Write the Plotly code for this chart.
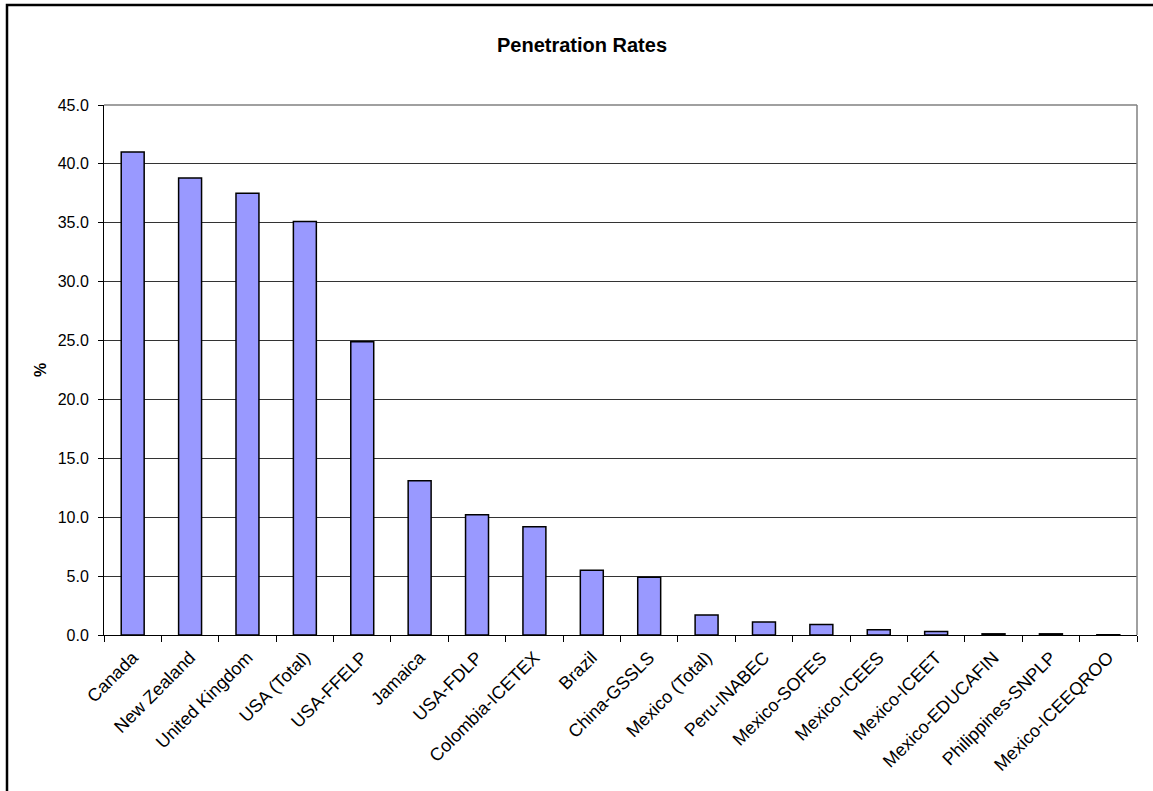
import plotly.graph_objects as go

categories = ["Canada", "New Zealand", "United Kingdom", "USA (Total)", "USA-FFELP",
              "Jamaica", "USA-FDLP", "Colombia-ICETEX", "Brazil", "China-GSSLS",
              "Mexico (Total)", "Peru-INABEC", "Mexico-SOFES", "Mexico-ICEES",
              "Mexico-ICEET", "Mexico-EDUCAFIN", "Philippines-SNPLP", "Mexico-ICEEQROO"]
values = [41.0, 38.8, 37.5, 35.1, 24.9, 13.1, 10.2, 9.2, 5.5, 4.9,
          1.7, 1.1, 0.9, 0.45, 0.3, 0.1, 0.1, 0.02]
y_ticks = [0, 5, 10, 15, 20, 25, 30, 35, 40, 45]

FONT = "Liberation Sans, Arial, sans-serif"

W, H = 1153, 791
L, R, T, B = 104, 16, 105, 156
pw, ph = W - L - R, H - T - B

def px_x(x):
    return (x - L) / pw

def px_y(y):
    return (H - B - y) / ph

fig = go.Figure(go.Bar(
    x=categories, y=values,
    marker=dict(color="#9999FF", line=dict(color="black", width=1.5)),
    hoverinfo="x+y",
))

fig.update_layout(
    width=W, height=H,
    margin=dict(l=L, r=R, t=T, b=B),
    paper_bgcolor="white", plot_bgcolor="white",
    bargap=0.6,
    showlegend=False,
    font=dict(family=FONT, size=16, color="black"),
    title=dict(text="<b>Penetration Rates</b>", font=dict(family=FONT, size=20, color="black"),
               xref="container", x=(582) / W, xanchor="center",
               yref="container", y=1 - 45 / H, yanchor="middle"),
)

fig.update_xaxes(
    type="category", tickangle=-45, tickson="boundaries",
    ticks="outside", ticklen=6, tickcolor="black", tickwidth=1,
    showline=True, linecolor="black", linewidth=1,
    showgrid=False, tickfont=dict(family=FONT, size=18, color="black"),
    ticklabelstandoff=4,
)
fig.update_yaxes(
    range=[0, 45], tickvals=y_ticks, tickformat=".1f",
    ticks="outside", ticklen=5, tickcolor="black", tickwidth=1,
    showline=True, linecolor="black", linewidth=1,
    showgrid=True, gridcolor="#333333", gridwidth=1,
    zeroline=False, tickfont=dict(family=FONT, size=16, color="black"),
    ticklabelstandoff=6,
)

fig.add_annotation(text="<b>%</b>", xref="paper", yref="paper",
                   x=px_x(40), y=0.5, showarrow=False, textangle=-90,
                   font=dict(family=FONT, size=16, color="black"),
                   xanchor="center", yanchor="middle")

# gray plot-area border (top and right)
fig.add_shape(type="line", xref="paper", yref="paper", x0=0, x1=1, y0=1, y1=1,
              line=dict(color="#808080", width=1.5))
fig.add_shape(type="line", xref="paper", yref="paper", x0=1, x1=1, y0=0, y1=1,
              line=dict(color="#808080", width=1.5))

# outer chart border (left & top visible, right/bottom off-canvas)
fig.add_shape(type="rect", xref="paper", yref="paper",
              x0=px_x(7), x1=px_x(1162), y0=px_y(800), y1=px_y(5),
              line=dict(color="black", width=2.5), fillcolor="rgba(0,0,0,0)")

fig.write_html("out.html")
